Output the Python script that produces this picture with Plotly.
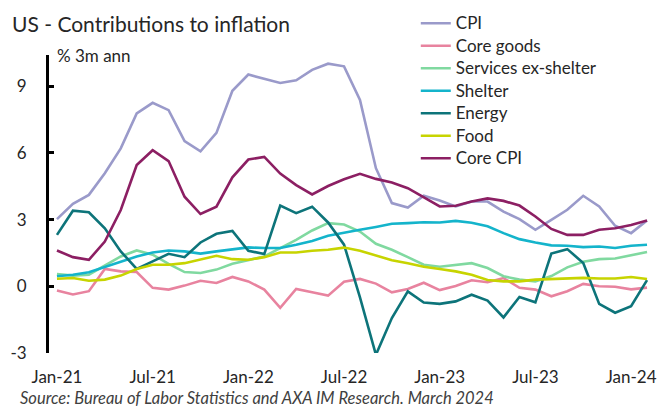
import plotly.graph_objects as go

months = [f"{m}-{y}" for y in ("21", "22", "23") for m in
          ("Jan", "Feb", "Mar", "Apr", "May", "Jun", "Jul", "Aug", "Sep", "Oct", "Nov", "Dec")] + ["Jan-24", "Feb-24"]

cpi = [3.02, 3.71, 4.11, 5.08, 6.20, 7.77, 8.25, 7.92, 6.53, 6.07,
       6.90, 8.79, 9.52, 9.34, 9.14, 9.26, 9.73, 10.01, 9.89, 8.38,
       5.31, 3.74, 3.54, 4.07, 3.86, 3.59, 3.81, 3.81, 3.36, 3.02,
       2.54, 2.99, 3.44, 4.07, 3.59, 2.72, 2.39, 2.96]
core_goods = [-0.19, -0.37, -0.22, 0.78, 0.67, 0.64, -0.07, -0.15, 0.03, 0.25,
              0.15, 0.42, 0.22, -0.15, -0.97, -0.12, -0.27, -0.42, 0.20, 0.33,
              0.12, -0.27, -0.12, 0.16, -0.17, 0.01, 0.27, 0.18, 0.37, -0.07,
              -0.15, -0.45, -0.22, 0.11, 0.00, -0.02, -0.14, -0.06]
services_ex_shelter = [0.55, 0.48, 0.52, 0.93, 1.34, 1.61, 1.42, 1.01, 0.64, 0.60,
                       0.75, 1.01, 1.19, 1.34, 1.72, 2.09, 2.51, 2.84, 2.78, 2.46,
                       1.91, 1.64, 1.31, 0.97, 0.88, 0.97, 1.04, 0.82, 0.45, 0.30,
                       0.22, 0.46, 0.85, 1.10, 1.22, 1.25, 1.38, 1.54]
shelter = [0.45, 0.52, 0.63, 0.87, 1.12, 1.34, 1.52, 1.61, 1.57, 1.47,
           1.57, 1.67, 1.75, 1.72, 1.72, 1.87, 2.04, 2.27, 2.39, 2.54,
           2.67, 2.81, 2.84, 2.88, 2.87, 2.94, 2.86, 2.70, 2.39, 2.12,
           1.97, 1.84, 1.82, 1.76, 1.79, 1.72, 1.82, 1.87]
energy = [2.31, 3.40, 3.33, 2.61, 1.57, 0.78, 1.12, 1.46, 1.31, 1.97,
          2.36, 2.49, 1.60, 1.45, 3.63, 3.29, 3.58, 2.87, 1.87, -0.50,
          -3.08, -1.43, -0.23, -0.73, -0.79, -0.68, -0.38, -0.64, -1.40, -0.48,
          -0.72, 1.47, 1.67, 1.05, -0.79, -1.19, -0.90, 0.28]
food = [0.34, 0.37, 0.25, 0.30, 0.48, 0.78, 0.97, 0.97, 1.04, 1.19,
        1.37, 1.22, 1.19, 1.31, 1.52, 1.52, 1.60, 1.64, 1.74, 1.60,
        1.40, 1.17, 1.04, 0.88, 0.78, 0.67, 0.52, 0.28, 0.22, 0.22,
        0.30, 0.33, 0.33, 0.38, 0.35, 0.35, 0.42, 0.33]
core_cpi = [1.61, 1.31, 1.19, 2.01, 3.43, 5.45, 6.12, 5.63, 4.03, 3.25,
            3.58, 4.90, 5.70, 5.82, 5.07, 4.55, 4.13, 4.51, 4.81, 5.06,
            4.83, 4.67, 4.41, 4.01, 3.59, 3.62, 3.81, 3.95, 3.84, 3.63,
            3.14, 2.58, 2.31, 2.31, 2.54, 2.61, 2.76, 2.96]

tick_labels = ["Jan-21", "Jul-21", "Jan-22", "Jul-22", "Jan-23", "Jul-23", "Jan-24"]
y_ticks = [-3, 0, 3, 6, 9]
y_tick_labels = ["-3", "0", "3", "6", "9"]

series = [
    ("CPI", cpi, "#9A9ACA"),
    ("Core goods", core_goods, "#E8839F"),
    ("Services ex-shelter", services_ex_shelter, "#80D9A0"),
    ("Shelter", shelter, "#14B4CB"),
    ("Energy", energy, "#0D747A"),
    ("Food", food, "#C7D400"),
    ("Core CPI", core_cpi, "#8C1F63"),
]

FONT = "Lato"
TXT = "#262626"
W, H = 662, 409
ML, MR, MT, MB = 49, 5, 55, 56
PW, PH = W - ML - MR, H - MT - MB
xs = list(range(len(months)))
ymin, ymax = -3, 10.4

fig = go.Figure()
for name, vals, col in series:
    fig.add_trace(go.Scatter(x=xs, y=vals, mode="lines",
                             name='<span style="font-size:17px">' + name + "</span>",
                             line=dict(color=col, width=2.6), customdata=months,
                             hovertemplate="%{customdata}: %{y:.2f}<extra>" + name + "</extra>"))

label_pos = [months.index(t) for t in tick_labels]
bound_pos = [p - 0.5 for p in label_pos]
zero_frac = (0 - ymin) / (ymax - ymin)

fig.update_layout(
    width=W, height=H,
    margin=dict(l=ML, r=MR, t=MT, b=MB),
    paper_bgcolor="white", plot_bgcolor="white",
    font=dict(family=FONT, color=TXT, size=17),
    title=dict(text="US - Contributions to inflation", font=dict(size=21, color=TXT, family=FONT),
               xref="container", x=12 / W, xanchor="left",
               yref="container", y=1 - 25 / H, yanchor="middle"),
    showlegend=True,
    legend=dict(xref="paper", yref="paper", x=(417 - ML) / PW, y=(H - MB - 7) / PH,
                xanchor="left", yanchor="top", bgcolor="rgba(0,0,0,0)",
                font=dict(size=15, color=TXT, family=FONT), tracegroupgap=0),
    xaxis=dict(range=[-0.5, len(months) - 0.5], tickmode="array", tickvals=label_pos,
               ticktext=tick_labels, ticks="", showline=False, showgrid=False, zeroline=False,
               ticklabelstandoff=12, tickfont=dict(size=17, color=TXT)),
    xaxis2=dict(overlaying="x", anchor="free", position=zero_frac, side="bottom",
                range=[-0.5, len(months) - 0.5], tickmode="array", tickvals=bound_pos,
                ticks="outside", ticklen=5, tickwidth=2.5, tickcolor="black",
                showticklabels=False, showline=True, linecolor="black", linewidth=2.5,
                showgrid=False, zeroline=False, layer="below traces"),
    xaxis3=dict(overlaying="x", anchor="free", position=zero_frac, side="bottom",
                range=[-0.5, len(months) - 0.5], tickmode="array", tickvals=bound_pos,
                ticks="inside", ticklen=5, tickwidth=2.5, tickcolor="black",
                showticklabels=False, showline=False,
                showgrid=False, zeroline=False, layer="below traces"),
    yaxis=dict(range=[ymin, ymax], tickmode="array", tickvals=y_ticks, ticktext=y_tick_labels,
               ticks="inside", ticklen=5, tickwidth=2.5, tickcolor="black",
               showline=True, linecolor="black", linewidth=3, showgrid=False, zeroline=False,
               ticklabelstandoff=16, tickfont=dict(size=17, color=TXT)),
)

fig.add_annotation(text="% 3m ann", xref="paper", yref="paper", x=6 / PW, y=1,
                   xanchor="left", yanchor="middle", showarrow=False,
                   font=dict(size=17, color=TXT, family=FONT))
fig.add_annotation(text="<i>Source: Bureau of Labor Statistics and AXA IM Research. March 2024</i>",
                   xref="paper", yref="paper", x=(18 - ML) / PW, y=(H - MB - 398) / PH,
                   xanchor="left", yanchor="middle", showarrow=False,
                   font=dict(size=16.5, color="#404040", family=FONT))

fig.write_html("out.html")
